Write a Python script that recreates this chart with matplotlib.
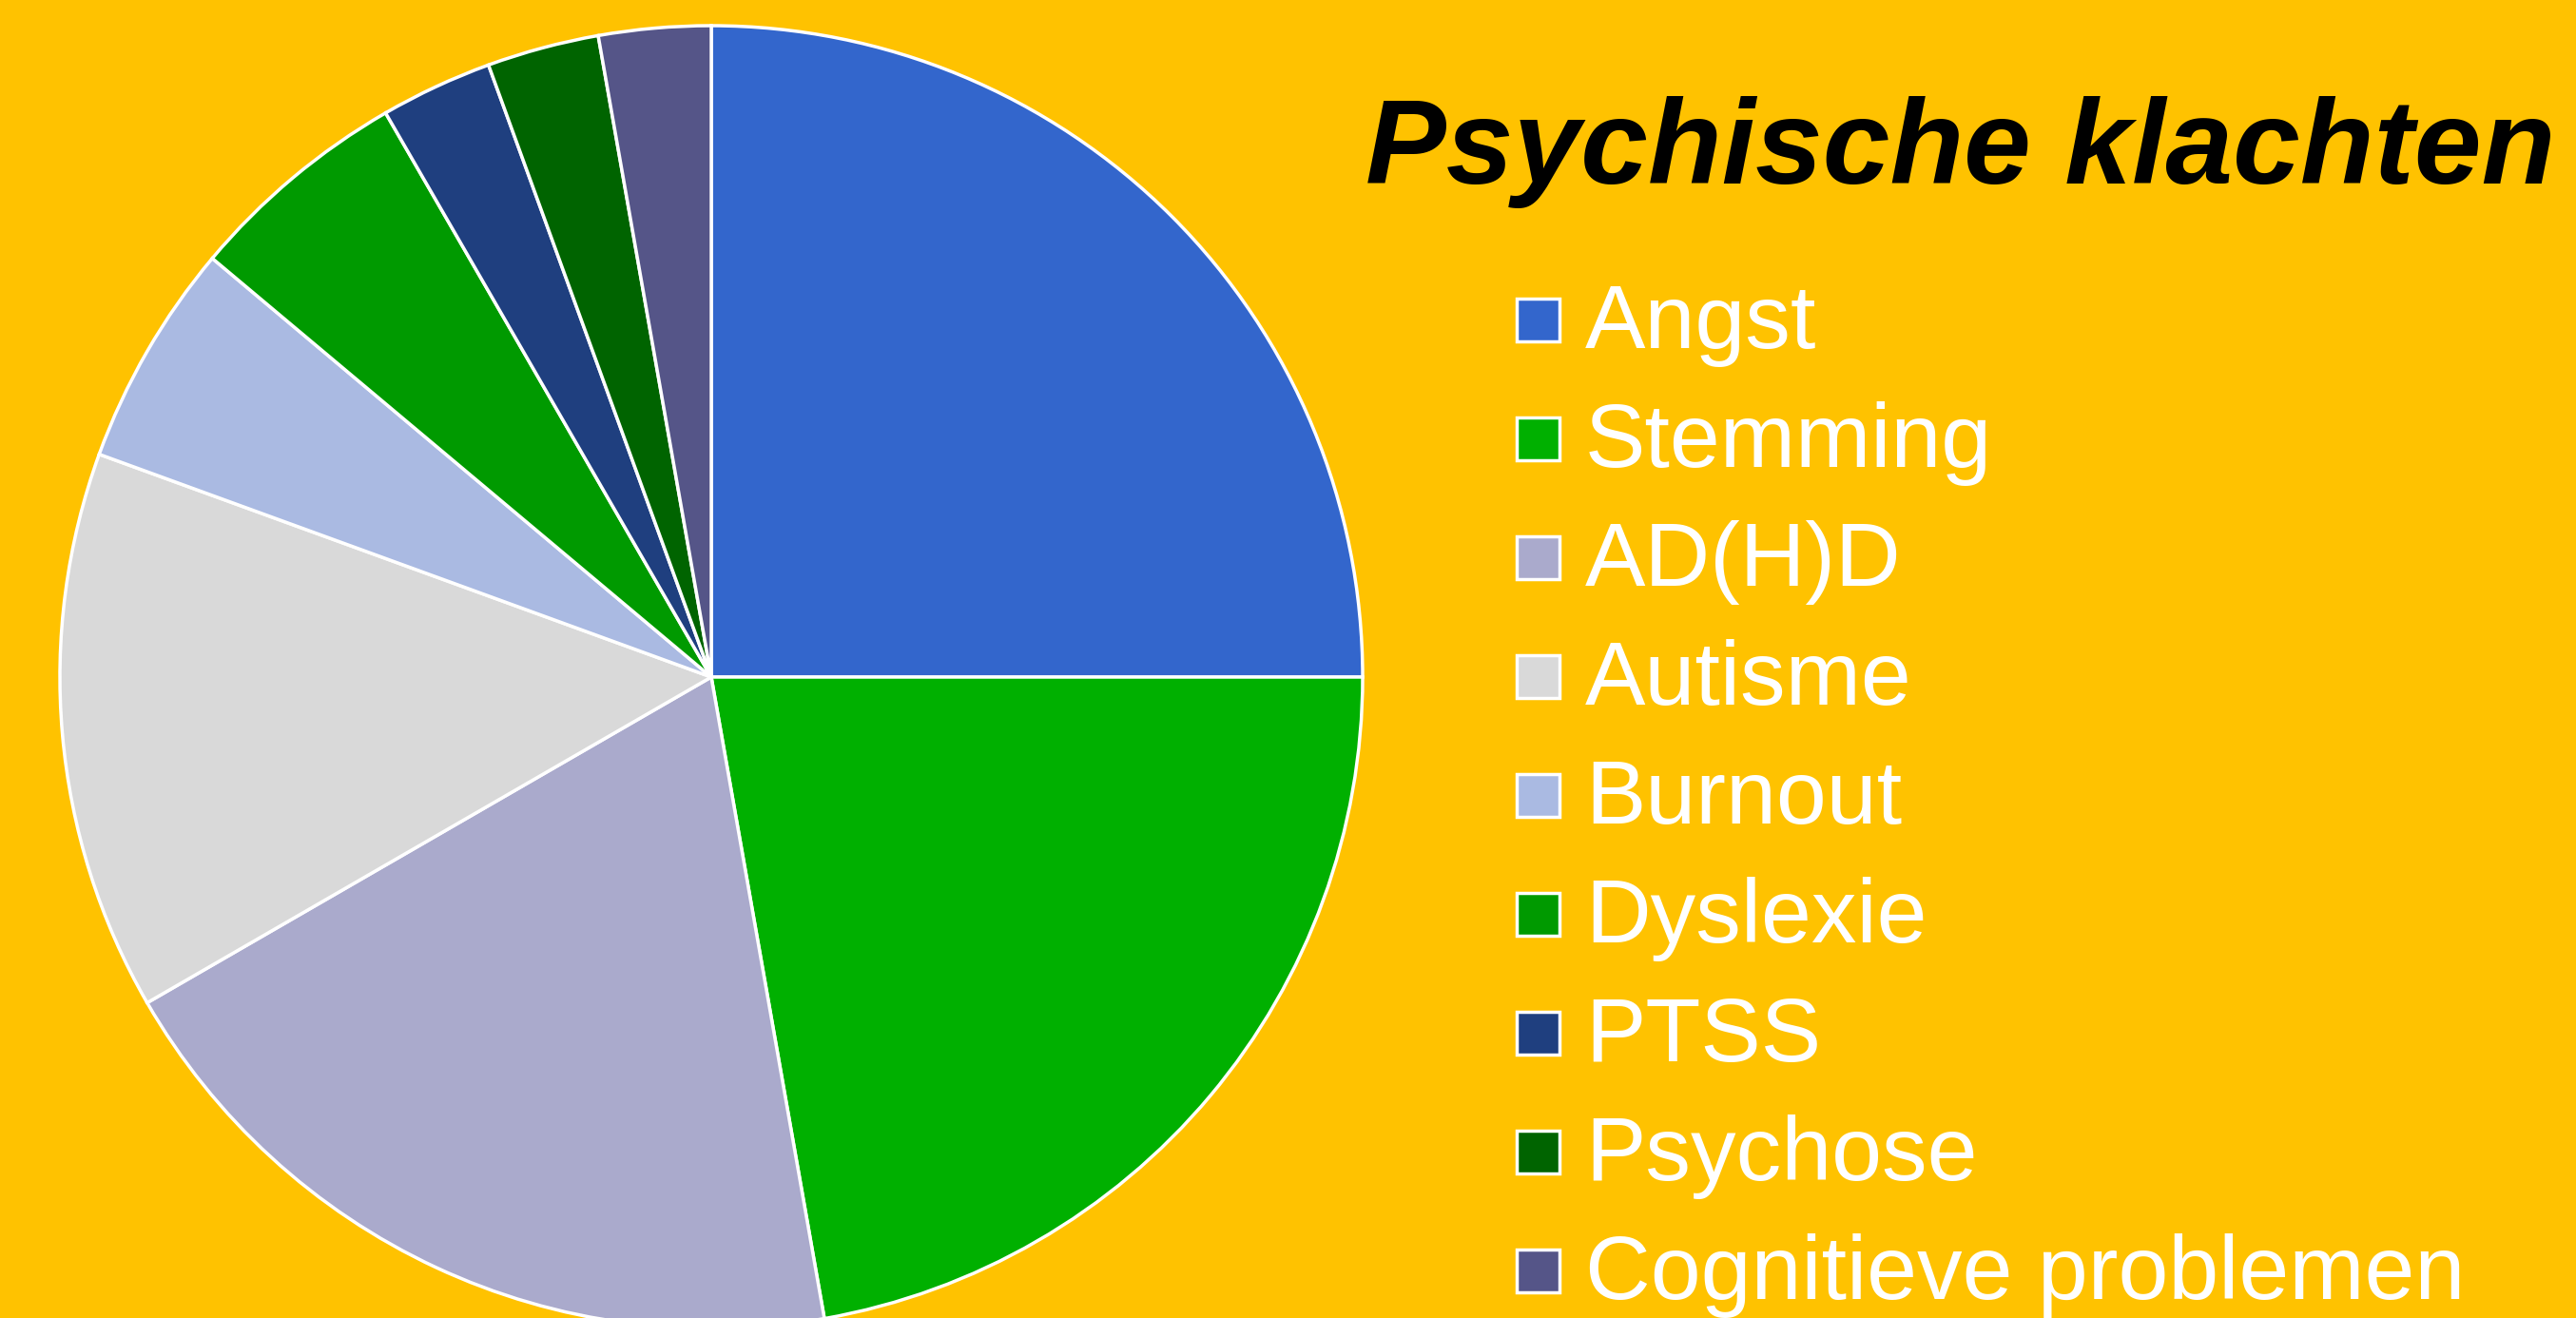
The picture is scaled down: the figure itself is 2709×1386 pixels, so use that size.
import matplotlib.pyplot as plt
from matplotlib.patches import Rectangle

# Gegevens
labels = ['Angst', 'Stemming', 'AD(H)D', 'Autisme', 'Burnout', 'Dyslexie',
          'PTSS', 'Psychose', 'Cognitieve problemen']
counts = [9, 8, 7, 5, 2, 2, 1, 1, 1]
colors = ['#3366CC', '#00B000', '#AAAACC', '#D9D9D9', '#AABAE2', '#009A00',
          '#1F3F7F', '#006400', '#555588']
title = 'Psychische klachten'

bg = '#FFC200'
W, H = 2709, 1386
fig = plt.figure(figsize=(W / 100, H / 100), dpi=100, facecolor=bg)

# Taart: middelpunt (748, 712) px, straal 684 px
cx, cy, r = 748, 712, 685
ax = fig.add_axes([(cx - r) / W, (H - cy - r) / H, 2 * r / W, 2 * r / H])
ax.set_facecolor(bg)
ax.pie(counts, colors=colors, startangle=90, counterclock=False, radius=1,
       wedgeprops=dict(edgecolor='white', linewidth=2.5, clip_on=False),
       frame=False)
ax.set_xlim(-1, 1)
ax.set_ylim(-1, 1)
ax.set_aspect('equal')
ax.axis('off')

# Titel
fig.text(1436 / W, 1 - 193 / H, title, fontsize=91.5, fontweight='bold',
         fontstyle='italic', family='Liberation Sans', color='black',
         ha='left', va='baseline')

# Legenda
for i, (lab, col) in enumerate(zip(labels, colors)):
    base = 366 + i * 125
    fig.add_artist(Rectangle((1595 / W, 1 - (base - 7) / H), 45 / W, 45 / H,
                             transform=fig.transFigure, facecolor=col,
                             edgecolor='white', linewidth=2.5))
    fig.text(1667 / W, 1 - base / H, lab, fontsize=68.5, family='Liberation Sans',
             color='white', ha='left', va='baseline')

fig.savefig('out.png', dpi=100, facecolor=bg)
